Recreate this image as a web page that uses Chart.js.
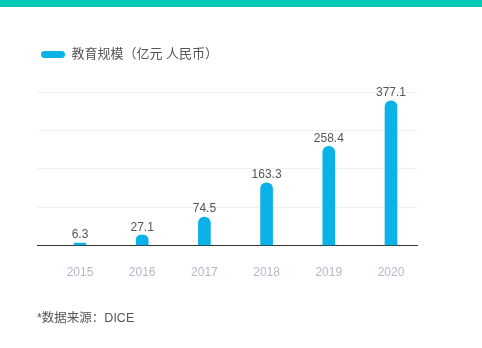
<!DOCTYPE html>
<html>
<head>
<meta charset="utf-8">
<script src="https://cdn.jsdelivr.net/npm/chart.js@4/dist/chart.umd.min.js"></script>
<style>
  html, body { margin: 0; padding: 0; background: #fff; }
  #wrap { position: relative; width: 482px; height: 348px; overflow: hidden; }
  #topbar { position: absolute; left: 0; top: 0; width: 482px; height: 7px; background: #00c9b8; }
  #chart { position: absolute; left: 0; top: 0; }
  #source { position: absolute; left: 37px; top: 307px; font: 12.5px 'Liberation Sans', 'Noto Sans CJK SC', sans-serif; color: #555; }
</style>
</head>
<body>
<div id="wrap">
  <canvas id="chart" width="482" height="348"></canvas>
  <div id="topbar"></div>
  <div id="source">*数据来源：DICE</div>
</div>
<script>
// Education market size, 100 million RMB
const years = ['2015', '2016', '2017', '2018', '2019', '2020'];
const scale = [6.3, 27.1, 74.5, 163.3, 258.4, 377.1];
const seriesName = '教育规模（亿元 人民币）';
const yTicks = [0, 100, 200, 300, 400];

const FONT = "'Liberation Sans', 'Noto Sans CJK SC', sans-serif";

// extra room below the legend row
const legendSpace = {
  id: 'legendSpace',
  beforeInit(chart) {
    const fit = chart.legend.fit;
    chart.legend.fit = function () {
      fit.bind(chart.legend)();
      this.height += 21;
    };
  }
};

// value printed above each bar
const valueLabels = {
  id: 'valueLabels',
  afterDatasetsDraw(chart) {
    const ctx = chart.ctx;
    const meta = chart.getDatasetMeta(0);
    ctx.save();
    ctx.font = '12px ' + FONT;
    ctx.fillStyle = '#555';
    ctx.textAlign = 'center';
    ctx.textBaseline = 'bottom';
    meta.data.forEach((bar, i) => {
      ctx.fillText(String(scale[i]), bar.x, bar.y - 2);
    });
    ctx.restore();
  }
};

new Chart(document.getElementById('chart'), {
  type: 'bar',
  data: {
    datasets: [{
      label: seriesName,
      data: scale.map((v, i) => ({ x: i, y: v })),
      backgroundColor: '#0ab2e8',
      barThickness: 12,
      borderRadius: { topLeft: 6, topRight: 6, bottomLeft: 0, bottomRight: 0 },
      borderSkipped: false
    }]
  },
  options: {
    responsive: false,
    animation: false,
    layout: { padding: { left: 37, right: 65, top: 44, bottom: 48 } },
    plugins: {
      legend: {
        position: 'top',
        align: 'start',
        labels: {
          boxWidth: 24,
          boxHeight: 7,
          useBorderRadius: true,
          borderRadius: 3.5,
          padding: 4,
          color: '#555',
          font: { size: 13, family: FONT }
        }
      },
      tooltip: { enabled: false }
    },
    scales: {
      x: {
        type: 'linear',
        offset: false,
        min: -0.691,
        max: 5.418,
        afterBuildTicks(axis) {
          axis.ticks = years.map((_, i) => ({ value: i }));
        },
        ticks: {
          autoSkip: false,
          maxRotation: 0,
          padding: 20,
          color: '#b0b9c7',
          font: { size: 12, family: FONT },
          callback: (v) => years[v]
        },
        grid: { display: false, drawTicks: false, offset: false },
        border: { display: true, color: '#333', width: 1 }
      },
      y: {
        min: yTicks[0],
        max: yTicks[yTicks.length - 1],
        afterBuildTicks(axis) {
          axis.ticks = yTicks.map(v => ({ value: v }));
        },
        ticks: { display: false },
        grid: { color: '#f1f1f1', drawTicks: false },
        border: { display: false }
      }
    }
  },
  plugins: [legendSpace, valueLabels]
});
</script>
</body>
</html>
